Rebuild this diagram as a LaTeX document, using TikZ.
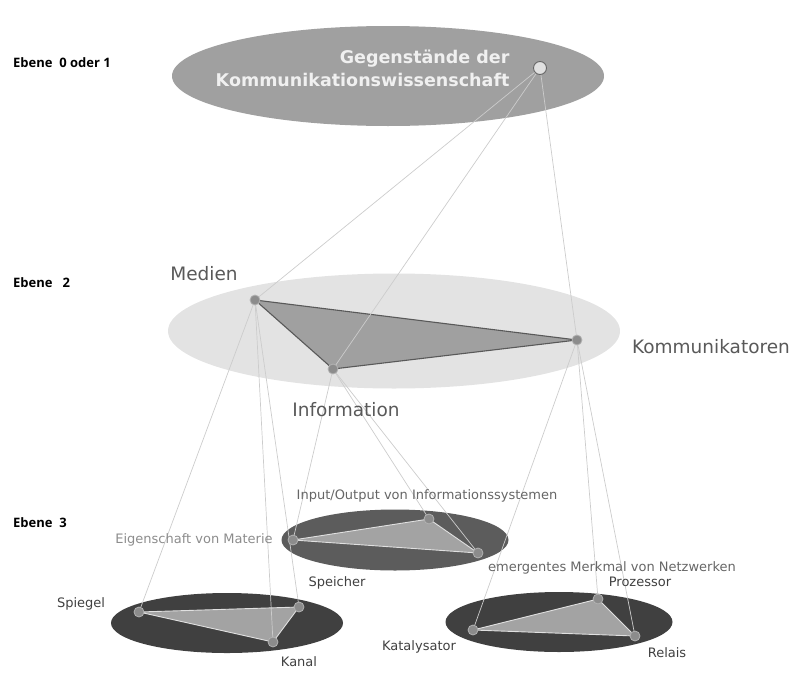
\documentclass[tikz,border=0pt]{standalone}
\usepackage{fontspec}
\setmainfont{DejaVu Sans}
\newfontfamily\ebenefont{Open Sans}
\usetikzlibrary{shapes.geometric, positioning, backgrounds}

\definecolor{topfill}{HTML}{A0A0A0}
\definecolor{midfill}{HTML}{E3E3E3}
\definecolor{lowfill}{HTML}{5C5C5C}
\definecolor{darkfill}{HTML}{404040}
\definecolor{trifill}{HTML}{A3A3A3}
\definecolor{linkgray}{HTML}{CCCCCC}

\begin{document}
\begin{tikzpicture}[
    x=1pt, y=-1pt,
    plane/.style = {ellipse, inner sep=0pt},
    dot/.style = {circle, draw=black!30, fill=black!45, line width=0.8pt, inner sep=0pt, minimum size=10pt},
    topdot/.style = {circle, draw=black!60, fill=black!12, line width=0.9pt, inner sep=0pt, minimum size=13pt},
    link/.style = {draw=linkgray, line width=0.7pt},
    tri/.style = {fill=topfill, draw=black!65, line width=1.1pt, line join=round},
    lowtri/.style = {fill=trifill, draw=black!12, line width=0.9pt, line join=round},
    biglabel/.style = {font=\fontsize{18.5}{22}\selectfont, text=black!65},
    smalllabel/.style = {font=\fontsize{13}{15}\selectfont, text=black!60},
    ebene/.style = {font=\ebenefont\bfseries\fontsize{13}{15}\selectfont, anchor=west, inner sep=0pt},
]
\useasboundingbox (0,0) rectangle (792,672);

% Ebenen
\node [ebene] (e01) at (13,63) {Ebene\ \ 0 oder 1};
\node [ebene] (e2) at (13,283) {Ebene\ \ \ 2};
\node [ebene] (e3) at (13,523) {Ebene\ \ 3};

% Ellipses
\node [plane, fill=topfill, minimum width=432pt, minimum height=100pt] (top) at (388,76) {};
\node [plane, fill=midfill, minimum width=452pt, minimum height=115pt] (mid) at (394,331) {};
\node [plane, fill=lowfill, minimum width=227pt, minimum height=61pt] (infoplane) at (395,540) {};
\node [plane, fill=darkfill, minimum width=232pt, minimum height=60pt] (medplane) at (227,623) {};
\node [plane, fill=darkfill, minimum width=227pt, minimum height=60pt] (komplane) at (559,622) {};

% Title
\node [anchor=east, align=right, text=black!6, font=\bfseries\fontsize{17.5}{23}\selectfont] (title) at (513,68) {Gegenst\"ande der\\Kommunikationswissenschaft};

% Points
\coordinate (c0) at (540,68);
\coordinate (cmed) at (255,300);
\coordinate (cinf) at (333,369);
\coordinate (ckom) at (577,340);
\coordinate (ceig) at (293,540);
\coordinate (cinp) at (429,519);
\coordinate (cspe) at (478,553);
\coordinate (cspi) at (139,612);
\coordinate (crig) at (299,607);
\coordinate (ckan) at (273,642);
\coordinate (ckat) at (473,630);
\coordinate (cpro) at (598,599);
\coordinate (crel) at (635,636);

% Triangles
\path [tri] (cmed) -- (ckom) -- (cinf) -- cycle;
\path [lowtri] (ceig) -- (cinp) -- (cspe) -- cycle;
\path [lowtri] (cspi) -- (crig) -- (ckan) -- cycle;
\path [lowtri] (ckat) -- (cpro) -- (crel) -- cycle;

% Connectors
\path [link] (c0) -- (cmed);
\path [link] (c0) -- (cinf);
\path [link] (c0) -- (ckom);
\path [link] (cmed) -- (cspi);
\path [link] (cmed) -- (ckan);
\path [link] (cmed) -- (crig);
\path [link] (cinf) -- (ceig);
\path [link] (cinf) -- (cinp);
\path [link] (cinf) -- (cspe);
\path [link] (ckom) -- (ckat);
\path [link] (ckom) -- (cpro);
\path [link] (ckom) -- (crel);

% Dots
\node [topdot] (gegen) at (c0) {};
\foreach \p in {cmed, cinf, ckom, ceig, cinp, cspe, cspi, crig, ckan, ckat, cpro, crel}
    \node [dot] (\p-dot) at (\p) {};

% Labels
\node [biglabel] (medien) at (204,274) {Medien};
\node [biglabel] (information) at (346,410) {Information};
\node [biglabel] (kommunikatoren) at (711,347) {Kommunikatoren};

\node [smalllabel] (inout) at (427,496) {Input/Output von Informationssystemen};
\node [smalllabel, text=black!45] (eigen) at (194,540) {Eigenschaft von Materie};
\node [smalllabel, text=black!75] (speicher) at (337,583) {Speicher};
\node [smalllabel, text=black!75] (spiegel) at (81,604) {Spiegel};
\node [smalllabel, text=black!75] (kanal) at (299,662) {Kanal};
\node [smalllabel] (emergent) at (612,568) {emergentes Merkmal von Netzwerken};
\node [smalllabel, text=black!75] (prozessor) at (640,582) {Prozessor};
\node [smalllabel, text=black!75] (katalysator) at (419,647) {Katalysator};
\node [smalllabel, text=black!75] (relais) at (667,653) {Relais};

\end{tikzpicture}
\end{document}
